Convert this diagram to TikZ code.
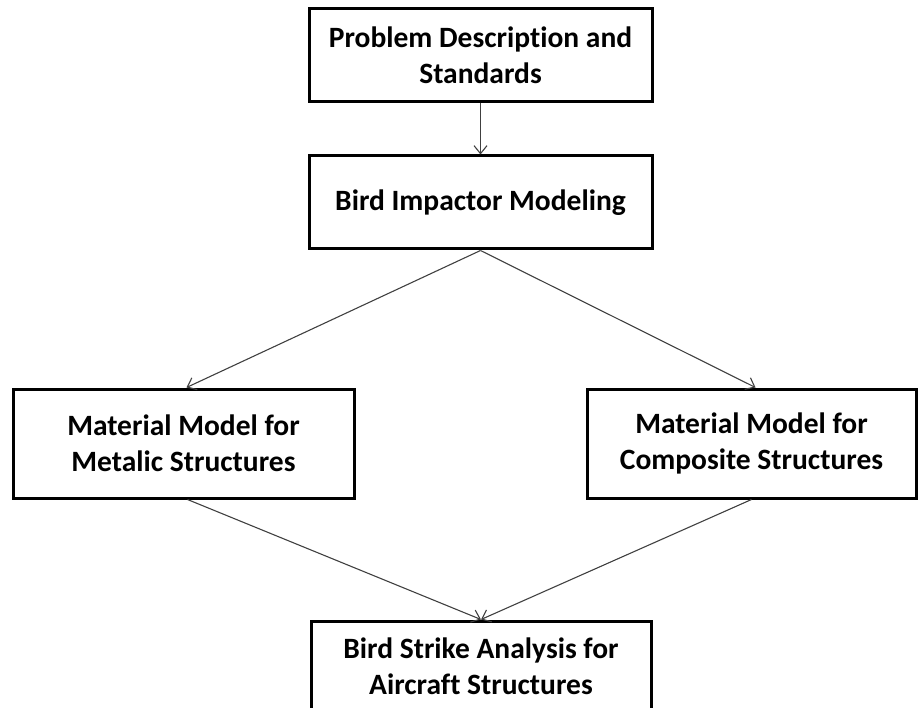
\documentclass[tikz,border=0pt]{standalone}
\usepackage{fontspec}
\setmainfont{Carlito}[Ligatures={NoCommon}]
\usetikzlibrary{arrows.meta}
\begin{document}
\begin{tikzpicture}[x=1pt,y=-1pt,
  box/.style={draw=black, line width=3pt, fill=white, align=center, inner sep=0pt,
    font=\bfseries\fontsize{29.5}{36}\selectfont},
  conn/.style={draw=black!75, line width=1.1pt, -{Straight Barb[length=8pt,width=13pt]}}]
\useasboundingbox (0,0) rectangle (920,708);
\node[box, minimum width=343pt, minimum height=93pt] (p) at (480.5,55) {Problem Description and\\Standards};
\node[box, minimum width=343pt, minimum height=93pt] (b) at (480.5,202.5) {Bird Impactor Modeling};
\node[box, minimum width=341pt, minimum height=109pt] (l) at (183.5,443.5) {Material Model for\\Metalic Structures};
\node[box, minimum width=329pt, minimum height=109pt] (r) at (751.5,443.5) {Material Model for\\Composite Structures};
\node[box, minimum width=340pt, minimum height=91pt] (s) at (481,666.5) {Bird Strike Analysis for\\Aircraft Structures};
\draw[conn] (p.south) -- (b.north);
\draw[conn] (b.south) -- ([xshift=3pt]l.north);
\draw[conn] (b.south) -- ([xshift=4pt]r.north);
\draw[conn] ([xshift=4pt]l.south) -- (s.north);
\draw[conn] (r.south) -- (s.north);
\end{tikzpicture}
\end{document}
